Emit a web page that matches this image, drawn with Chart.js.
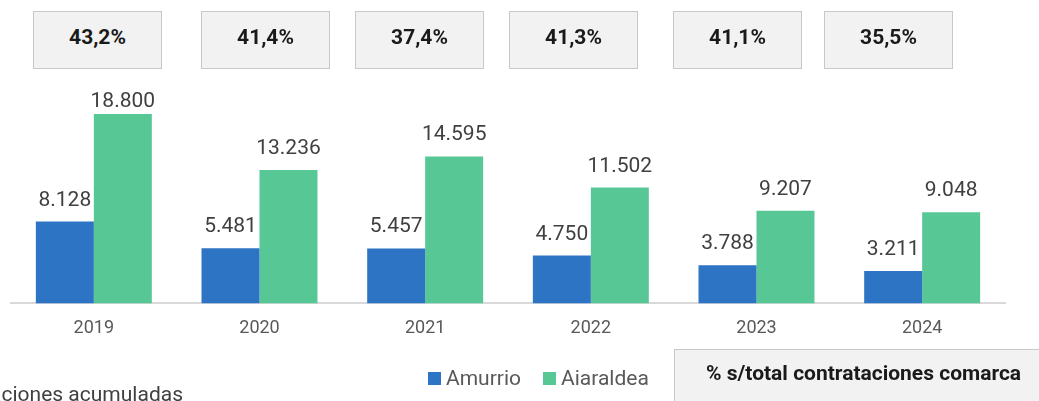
<!DOCTYPE html>
<html>
<head>
<meta charset="utf-8">
<script src="https://cdn.jsdelivr.net/npm/chart.js@4/dist/chart.umd.min.js"></script>
<style>
  html, body { margin: 0; padding: 0; background: #fff; overflow: hidden; }
  #wrap { position: relative; width: 1039px; height: 401px; font-family: Roboto, "Noto Sans", sans-serif; }
  #wrap canvas { position: absolute; left: 0; top: 0; }
  .pct { position: absolute; top: 11px; width: 127px; height: 56px; background: #f2f2f2;
         border: 1px solid #c8c8c8; box-sizing: content-box; font-weight: bold; font-size: 21px;
         color: #1a1a1a; text-align: center; line-height: 50px; }
  #note { position: absolute; left: 674px; top: 349px; width: 400px; height: 80px; background: #f2f2f2;
          border: 1px solid #c8c8c8; font-weight: bold; font-size: 21px; color: #1a1a1a; }
  #note span { position: absolute; left: 31px; top: 11px; white-space: nowrap; }
  #legend { position: absolute; left: 428px; top: 366px; font-size: 21px; color: #595959; white-space: nowrap; }
  #legend .item { display: inline-block; margin-right: 22px; }
  #legend .sw { display: inline-block; width: 13px; height: 13px; margin-right: 5px; vertical-align: 0px; }
  #foot { position: absolute; right: 856px; top: 382px; font-size: 21px; color: #404040; white-space: nowrap; }
</style>
</head>
<body>
<div id="wrap">
  <canvas id="myCanvas" width="1039" height="401"></canvas>
  <div id="boxes"></div>
  <div id="legend"></div>
  <div id="note"><span>% s/total contrataciones comarca</span></div>
  <div id="foot">Contrataciones acumuladas</div>
</div>
<script>
// datos
const years = ['2019', '2020', '2021', '2022', '2023', '2024'];
const amurrio = [8128, 5481, 5457, 4750, 3788, 3211];
const aiaraldea = [18800, 13236, 14595, 11502, 9207, 9048];
const shares = ['43,2%', '41,4%', '37,4%', '41,3%', '41,1%', '35,5%'];
const boxLeft = [33, 201, 355, 509, 673, 824];

const colors = ['#2e74c5', '#57c796'];

// cajas con el porcentaje
const boxes = document.getElementById('boxes');
shares.forEach((s, i) => {
  const d = document.createElement('div');
  d.className = 'pct';
  d.style.left = boxLeft[i] + 'px';
  d.textContent = s;
  boxes.appendChild(d);
});

const fmt = v => v.toLocaleString('de-DE');

// etiquetas encima de las barras
const valueLabels = {
  id: 'valueLabels',
  afterDatasetsDraw(chart) {
    const ctx = chart.ctx;
    ctx.save();
    ctx.font = '21px Roboto';
    ctx.fillStyle = '#404040';
    ctx.textAlign = 'center';
    ctx.textBaseline = 'alphabetic';
    chart.data.datasets.forEach((ds, di) => {
      chart.getDatasetMeta(di).data.forEach((bar, i) => {
        const y = Math.max(bar.y - 16, chart.chartArea.top + 5);
        ctx.fillText(fmt(ds.data[i]), bar.x, y);
      });
    });
    ctx.restore();
  }
};

const chart = new Chart(document.getElementById('myCanvas'), {
  type: 'bar',
  data: {
    labels: years,
    datasets: [
      { label: 'Amurrio', data: amurrio, backgroundColor: colors[0] },
      { label: 'Aiaraldea', data: aiaraldea, backgroundColor: colors[1] }
    ]
  },
  options: {
    responsive: false,
    animation: false,
    categoryPercentage: 0.7,
    barPercentage: 1.0,
    layout: { padding: { left: 11, right: 34, top: 102, bottom: 56 } },
    plugins: { legend: { display: false }, tooltip: { enabled: false } },
    scales: {
      x: {
        grid: { display: false },
        border: { display: true, color: '#d9d9d9', width: 2 },
        ticks: { color: '#595959', font: { family: 'Roboto', size: 18 }, padding: 6 }
      },
      y: { display: false, min: 0, max: 20000 }
    }
  },
  plugins: [valueLabels]
});

// leyenda
const legend = document.getElementById('legend');
chart.data.datasets.forEach(ds => {
  const it = document.createElement('span');
  it.className = 'item';
  it.innerHTML = '<span class="sw" style="background:' + ds.backgroundColor + '"></span>' + ds.label;
  legend.appendChild(it);
});
</script>
</body>
</html>
